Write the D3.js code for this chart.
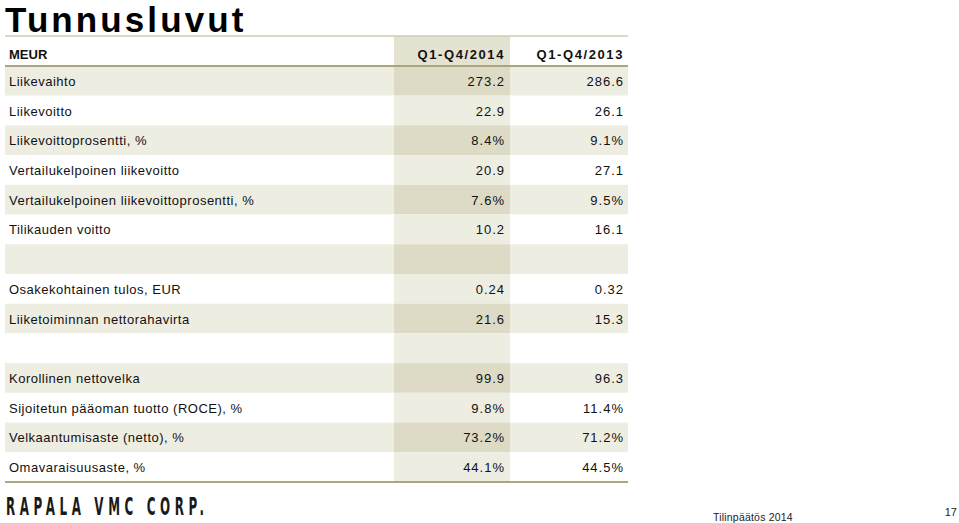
<!DOCTYPE html>
<html><head><meta charset="utf-8">
<script src="https://cdn.jsdelivr.net/npm/d3@7"></script>
<style>html,body{margin:0;padding:0;background:#fff;}svg{display:block;}</style>
</head><body>
<svg id="c" width="959" height="523"></svg>
<script>
const title = "Tunnusluvut";
const unitLabel = "MEUR";
const periods = ["Q1-Q4/2014", "Q1-Q4/2013"];
const labels = ["Liikevaihto","Liikevoitto","Liikevoittoprosentti, %","Vertailukelpoinen liikevoitto","Vertailukelpoinen liikevoittoprosentti, %","Tilikauden voitto","","Osakekohtainen tulos, EUR","Liiketoiminnan nettorahavirta","","Korollinen nettovelka","Sijoitetun pääoman tuotto (ROCE), %","Velkaantumisaste (netto), %","Omavaraisuusaste, %"];
const values2014 = [273.2, 22.9, 8.4, 20.9, 7.6, 10.2, null, 0.24, 21.6, null, 99.9, 9.8, 73.2, 44.1];
const values2013 = [286.6, 26.1, 9.1, 27.1, 9.5, 16.1, null, 0.32, 15.3, null, 96.3, 11.4, 71.2, 44.5];
const decimals = [1,1,1,1,1,1,0,2,1,0,1,1,1,1];
const suffix = ["","","%","","%","","","","","","","%","%","%"];
const footerLogo = "RAPALA VMC CORP.";
const footerText = "Tilinpäätös 2014";
const pageNum = "17";

const svg = d3.select("#c");
const left = 5, right = 628, headTop = 36, headBot = 66, bottom = 482;
const col14 = [394, 510], col13R = 624;

const y = d3.scaleBand().domain(d3.range(labels.length)).range([headBot, bottom]).padding(0);
const fmt = (v,i) => v == null ? "" : v.toFixed(decimals[i]) + suffix[i];

// title
svg.append("text").attr("x", 5).attr("y", 32).text(title)
  .attr("font-family","Liberation Sans, Arial, sans-serif").attr("font-weight","bold")
  .attr("font-size", 35).attr("letter-spacing", 3.1).attr("fill","#000");

// header column shade
svg.append("rect").attr("x", col14[0]).attr("y", headTop).attr("width", col14[1]-col14[0]).attr("height", headBot-headTop).attr("fill","#E4E2D1");

// row backgrounds
const rows = svg.append("g").selectAll("g").data(labels).join("g");
rows.append("rect").attr("x", left).attr("y",(d,i)=>y(i)).attr("width", right-left).attr("height", y.bandwidth())
  .attr("fill",(d,i)=> i%2===0 ? "#EEEDE2" : "#FFFFFF");
rows.append("rect").attr("x", col14[0]).attr("y",(d,i)=>y(i)).attr("width", col14[1]-col14[0]).attr("height", y.bandwidth())
  .attr("fill",(d,i)=> i%2===0 ? "#DDDBC6" : "#EEEDE2");

const tf = "Liberation Sans, Arial, sans-serif";
rows.append("text").attr("x", 9).attr("y",(d,i)=>y(i)+y.bandwidth()/2+5).text(d=>d)
  .attr("font-family",tf).attr("font-size",13).attr("letter-spacing",0.5).attr("fill","#111");
rows.append("text").attr("x", 505).attr("y",(d,i)=>y(i)+y.bandwidth()/2+5).text((d,i)=>fmt(values2014[i],i))
  .attr("text-anchor","end").attr("font-family",tf).attr("font-size",13).attr("letter-spacing",1).attr("fill","#111");
rows.append("text").attr("x", col13R).attr("y",(d,i)=>y(i)+y.bandwidth()/2+5).text((d,i)=>fmt(values2013[i],i))
  .attr("text-anchor","end").attr("font-family",tf).attr("font-size",13).attr("letter-spacing",1).attr("fill","#111");

// header text
svg.append("text").attr("x",9).attr("y",59).text(unitLabel).attr("font-family",tf).attr("font-weight","bold").attr("font-size",13).attr("fill","#111");
svg.selectAll("text.ph").data(periods).join("text").attr("class","ph")
  .attr("x",(d,i)=> i===0 ? 505 : col13R).attr("y",59).text(d=>d)
  .attr("text-anchor","end").attr("font-family",tf).attr("font-weight","bold").attr("font-size",13).attr("letter-spacing",1.6).attr("fill","#111");

// lines
svg.append("line").attr("x1",left).attr("x2",right).attr("y1",headTop).attr("y2",headTop).attr("stroke","#CFCCB0").attr("stroke-width",1.5);
svg.append("line").attr("x1",left).attr("x2",right).attr("y1",headBot).attr("y2",headBot).attr("stroke","#ABA67E").attr("stroke-width",2);
svg.append("line").attr("x1",left).attr("x2",right).attr("y1",bottom).attr("y2",bottom).attr("stroke","#ABA67E").attr("stroke-width",2);

// footer
svg.append("g").attr("transform","translate(6,515) scale(0.55,1)")
  .append("text").attr("x",0).attr("y",0).text(footerLogo)
  .attr("font-family","DejaVu Sans Condensed, DejaVu Sans, sans-serif").attr("font-weight","bold").attr("font-size",24)
  .attr("textLength",360).attr("lengthAdjust","spacing").attr("fill","#1a1a1a");
svg.append("text").attr("x",713).attr("y",521).text(footerText).attr("font-family",tf).attr("font-size",10.5).attr("letter-spacing",0.2).attr("fill","#222");
svg.append("text").attr("x",957).attr("y",516).text(pageNum).attr("text-anchor","end").attr("font-family",tf).attr("font-size",11).attr("fill","#222");
</script>
</body></html>
